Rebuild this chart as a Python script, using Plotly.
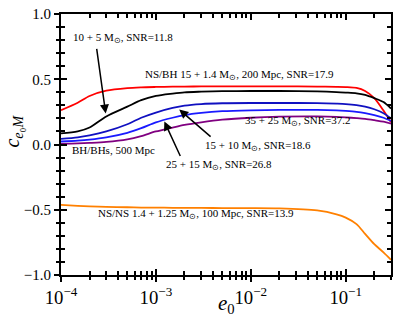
import math
import plotly.graph_objects as go

# ---- data ----
e0 = [1e-4, 1.5e-4, 2e-4, 3e-4, 5e-4, 7e-4, 1e-3, 1.5e-3, 2e-3, 3e-3, 5e-3,
      1e-2, 2e-2, 5e-2, 0.08, 0.1, 0.13, 0.16, 0.2, 0.25, 0.3]

nsbh = [0.263, 0.32, 0.372, 0.412, 0.432, 0.438, 0.441, 0.443, 0.444, 0.445, 0.445,
        0.445, 0.445, 0.444, 0.442, 0.44, 0.433, 0.41, 0.355, 0.26, 0.17]
bbh_10_5 = [0.085, 0.10, 0.13, 0.215, 0.29, 0.34, 0.372, 0.39, 0.40, 0.405, 0.409,
            0.41, 0.41, 0.407, 0.402, 0.398, 0.392, 0.38, 0.355, 0.325, 0.276]
bbh_15_10 = [0.043, 0.055, 0.07, 0.10, 0.155, 0.205, 0.245, 0.28, 0.298, 0.31, 0.316,
             0.318, 0.318, 0.317, 0.313, 0.31, 0.302, 0.29, 0.27, 0.24, 0.20]
bbh_25_15 = [0.023, 0.03, 0.038, 0.055, 0.09, 0.125, 0.17, 0.205, 0.225, 0.242, 0.255,
             0.262, 0.265, 0.265, 0.261, 0.257, 0.25, 0.24, 0.225, 0.205, 0.18]
bbh_35_25 = [0.005, 0.008, 0.012, 0.02, 0.04, 0.065, 0.1, 0.13, 0.15, 0.17, 0.19,
             0.205, 0.213, 0.215, 0.212, 0.208, 0.202, 0.196, 0.186, 0.175, 0.16]
nsns = [-0.463, -0.47, -0.474, -0.478, -0.481, -0.483, -0.484, -0.485, -0.486, -0.486, -0.487,
        -0.487, -0.489, -0.505, -0.535, -0.56, -0.61, -0.685, -0.764, -0.827, -0.884]

series = [
    ("NS/BH 15+1.4", nsbh, "#ff0000"),
    ("10+5", bbh_10_5, "#000000"),
    ("15+10", bbh_15_10, "#1010c0"),
    ("25+15", bbh_25_15, "#1a1aff"),
    ("35+25", bbh_35_25, "#800080"),
    ("NS/NS", nsns, "#ff8000"),
]

FONT = "Liberation Serif, Times New Roman, serif"
xr = [math.log10(1e-4), math.log10(0.3)]
yr = [-1.0, 1.0]

fig = go.Figure()
for name, vals, col in series:
    fig.add_trace(go.Scatter(x=e0, y=vals, mode="lines", name=name,
                             line=dict(color=col, width=1.8, shape="spline", smoothing=0.8),
                             showlegend=False, hoverinfo="skip"))
# invisible traces that activate the overlay axes carrying the tick marks
for xa, ya in (("x2", "y2"), ("x3", "y3"), ("x4", "y4")):
    fig.add_trace(go.Scatter(x=[1e-3], y=[0], xaxis=xa, yaxis=ya, mode="markers",
                             marker=dict(opacity=0), showlegend=False, hoverinfo="skip"))

MAJ = dict(ticklen=6, tickwidth=2, tickcolor="black")
MIN = dict(ticklen=4, tickwidth=2, tickcolor="black")
XT = dict(type="log", range=xr, dtick=1, showgrid=False)
YT = dict(range=yr, dtick=0.5, showgrid=False, zerolinecolor="rgba(0,0,0,0)")

fig.update_layout(
    width=399, height=316,
    margin=dict(l=61, r=6, t=9, b=41),
    paper_bgcolor="white", plot_bgcolor="white",
    font=dict(family=FONT, color="black", size=15),
    showlegend=False,
    # main axes: frame only
    xaxis=dict(**XT, ticks="", showticklabels=False,
               showline=True, mirror=True, linecolor="black", linewidth=2),
    yaxis=dict(**YT, ticks="", showticklabels=False,
               showline=True, mirror=True, linecolor="black", linewidth=2),
    # outward ticks + labels (bottom / left)
    xaxis2=dict(**XT, overlaying="x", anchor="y", side="bottom",
                exponentformat="power", showexponent="all",
                ticks="outside", **MAJ, tickfont=dict(family=FONT, size=15),
                minor=dict(ticks="outside", dtick="D1", **MIN)),
    yaxis2=dict(**YT, overlaying="y", anchor="x", side="left", tickformat=".1f",
                ticks="outside", **MAJ, tickfont=dict(family=FONT, size=15),
                minor=dict(ticks="outside", dtick=0.1, **MIN)),
    # inward ticks bottom / left
    xaxis3=dict(**XT, overlaying="x", anchor="y", side="bottom", showticklabels=False,
                ticks="inside", **MAJ, minor=dict(ticks="inside", dtick="D1", **MIN)),
    yaxis3=dict(**YT, overlaying="y", anchor="x", side="left", showticklabels=False,
                ticks="inside", **MAJ, minor=dict(ticks="inside", dtick=0.1, **MIN)),
    # inward ticks top / right
    xaxis4=dict(**XT, overlaying="x", anchor="y", side="top", showticklabels=False,
                ticks="inside", **MAJ, minor=dict(ticks="inside", dtick="D1", **MIN)),
    yaxis4=dict(**YT, overlaying="y", anchor="x", side="right", showticklabels=False,
                ticks="inside", **MAJ, minor=dict(ticks="inside", dtick=0.1, **MIN)),
)

# axis titles
fig.add_annotation(x=0.5, y=-0.11, xref="paper", yref="paper",
                   text="<i>e</i><sub>0</sub>", showarrow=False,
                   font=dict(family=FONT, size=21), xanchor="center", yanchor="middle")
fig.add_annotation(x=-0.145, y=0.55, xref="paper", yref="paper", textangle=-90,
                   text="<i>c</i><sub><i>e</i>\u2080<i>M</i></sub>", showarrow=False,
                   font=dict(family=FONT, size=20), xanchor="center", yanchor="middle")

TF = dict(family=FONT, size=11, color="black")
labels = [
    (-3.351, 0.817, "10 + 5 M<sub>\u2299</sub>, SNR=11.8"),
    (-2.120, 0.532, "NS/BH 15 + 1.4 M<sub>\u2299</sub>, 200 Mpc, SNR=17.9"),
    (-1.927, -0.01, "15 + 10 M<sub>\u2299</sub>, SNR=18.6"),
    (-1.508, 0.178, "35 + 25 M<sub>\u2299</sub>, SNR=37.2"),
    (-2.335, -0.16, "25 + 15 M<sub>\u2299</sub>, SNR=26.8"),
    (-3.445, -0.04, "BH/BHs, 500 Mpc"),
    (-2.581, -0.536, "NS/NS 1.4 + 1.25 M<sub>\u2299</sub>, 100 Mpc, SNR=13.9"),
]
for lx, ly, t in labels:
    fig.add_annotation(x=lx, y=ly, xref="x", yref="y", text=t, showarrow=False,
                       font=TF, xanchor="center", yanchor="middle")

arrows = [
    # (tail x, tail y, head x, head y)
    (-3.626, 0.744, -3.529, 0.238),
    (-2.408, 0.050, -2.754, 0.268),
    (-2.736, -0.10, -2.911, 0.176),
]
for tx, ty, hx, hy in arrows:
    fig.add_annotation(x=hx, y=hy, ax=tx, ay=ty, xref="x", yref="y", axref="x", ayref="y",
                       text="", showarrow=True, arrowhead=2, arrowsize=1.2, arrowwidth=1.5,
                       arrowcolor="black", standoff=0, startstandoff=0)

fig.write_html("out.html", config={"displayModeBar": False},
               post_script="document.body.style.margin='0px';document.body.style.overflow='hidden';")
